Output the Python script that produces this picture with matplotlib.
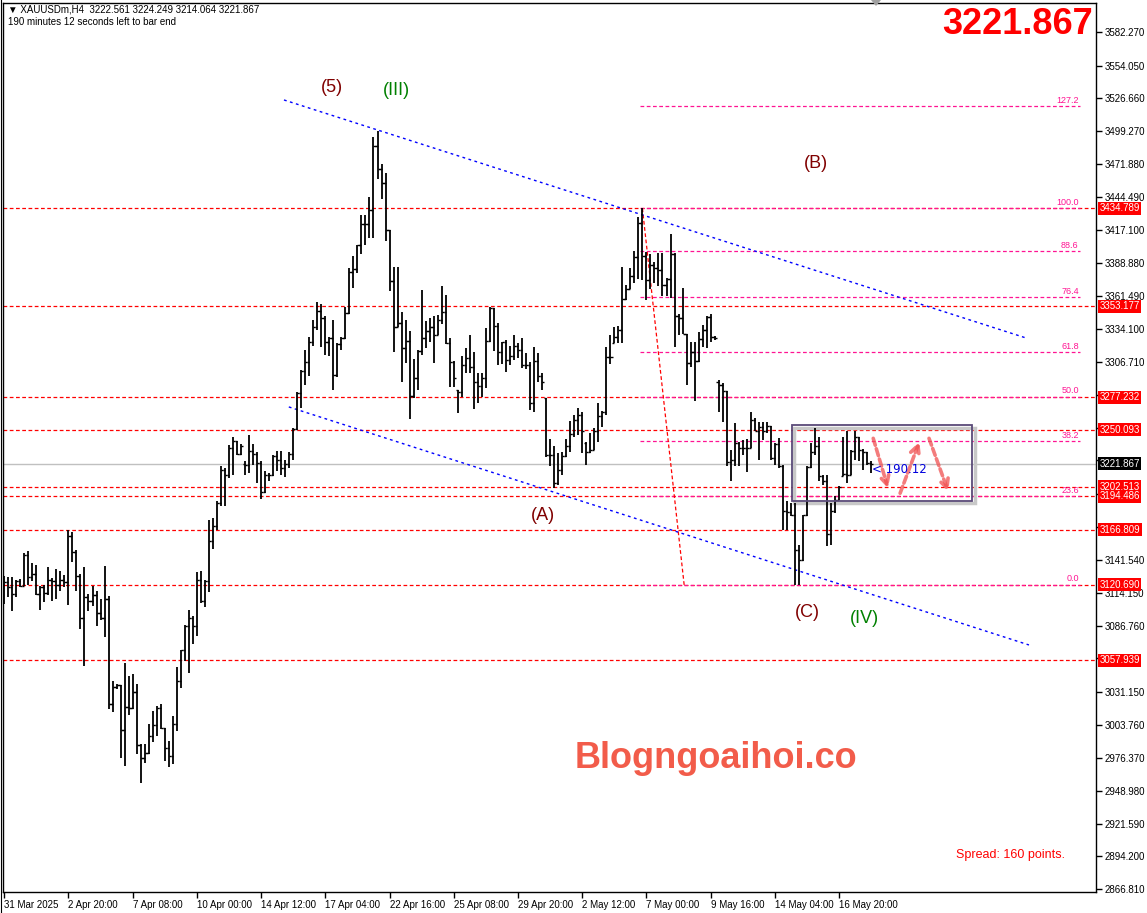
import matplotlib
matplotlib.use("Agg")
import matplotlib.pyplot as plt
import matplotlib.transforms as mtransforms
from matplotlib.patches import Rectangle, Polygon
from matplotlib.lines import Line2D

plt.rcParams['font.family'] = ['Liberation Sans', 'DejaVu Sans']

# XAUUSDm H4 bars
opens = [
    3124.3, 3123.2, 3118.8, 3113.2, 3123.8, 3119.6, 3145.4, 3127.1, 3129.9, 3113.2,
    3118.8, 3114.0, 3125.1, 3124.3, 3121.0, 3125.1, 3123.2, 3161.8, 3147.9, 3128.5,
    3092.7, 3110.4, 3107.1, 3112.6, 3097.4, 3092.7, 3109.3, 3021.6, 3035.8, 3036.9,
    2999.4, 3018.8, 3018.3, 3031.3, 2987.2, 2976.1, 2980.8, 2994.7, 3003.5, 3017.7,
    3001.0, 2984.4, 2978.0, 3004.4, 3040.5, 3066.0, 3086.3, 3092.7, 3086.3, 3125.1,
    3107.1, 3124.3, 3157.6, 3169.6, 3189.0, 3216.7, 3212.6, 3235.0, 3240.4, 3230.1,
    3222.0, 3221.0, 3232.1, 3230.1, 3222.4, 3198.2, 3212.1, 3212.1, 3227.9, 3225.1,
    3218.2, 3221.5, 3230.1, 3250.9, 3280.7, 3299.3, 3306.5, 3323.7, 3336.2, 3349.2,
    3343.7, 3323.1, 3327.0, 3295.9, 3321.5, 3327.0, 3347.3, 3382.0, 3384.2, 3404.2,
    3422.2, 3422.2, 3433.3, 3486.9, 3467.5, 3456.1, 3416.7, 3374.2, 3336.2, 3339.0,
    3318.7, 3324.2, 3278.7, 3293.7, 3315.9, 3326.5, 3332.6, 3336.2, 3329.2, 3341.7,
    3348.7, 3322.5, 3307.0, 3283.0, 3282.0, 3304.2, 3310.0, 3302.2, 3290.3, 3287.0,
    3293.1, 3324.2, 3351.9, 3336.9, 3314.7, 3323.1, 3308.3, 3312.0, 3320.3, 3316.7,
    3304.2, 3304.0, 3272.3, 3307.5, 3295.3, 3276.4, 3228.7, 3228.7, 3205.6, 3216.7,
    3228.0, 3237.0, 3246.7, 3258.4, 3262.6, 3239.0, 3232.0, 3233.4, 3248.7, 3262.0,
    3264.8, 3311.1, 3322.2, 3327.8, 3333.3, 3359.1, 3368.0, 3378.6, 3394.4, 3423.0,
    3395.0, 3375.0, 3387.5, 3385.2, 3383.8, 3370.8, 3376.0, 3397.2, 3345.0, 3343.0,
    3329.7, 3305.6, 3315.3, 3307.5, 3325.8, 3333.3, 3344.4, 3327.8, 3290.0, 3287.5,
    3282.5, 3223.0, 3225.1, 3238.9, 3235.0, 3234.8, 3235.3, 3258.4, 3249.2, 3252.8,
    3248.7, 3253.7, 3227.0, 3238.1, 3219.5, 3182.0, 3181.5, 3178.7, 3150.1, 3141.8,
    3178.7, 3218.7, 3231.4, 3237.0, 3211.2, 3207.0, 3163.2, 3182.6, 3191.7, 3211.5,
    3213.1, 3212.0, 3232.6, 3244.5, 3233.4, 3231.4, 3222.561,
]
highs = [
    3127.9, 3127.1, 3127.1, 3125.1, 3126.0, 3147.1, 3148.7, 3139.0, 3137.1, 3119.6,
    3120.4, 3135.4, 3126.5, 3134.0, 3132.1, 3128.7, 3166.8, 3164.8, 3149.6, 3130.0,
    3135.4, 3113.2, 3119.6, 3116.0, 3109.0, 3136.2, 3111.3, 3040.5, 3038.3, 3037.0,
    3055.2, 3044.6, 3046.0, 3037.7, 2987.7, 2988.3, 3004.4, 3015.5, 3019.6, 3021.6,
    3001.0, 2990.5, 3011.3, 3052.1, 3066.8, 3087.1, 3099.6, 3094.6, 3131.5, 3132.1,
    3125.1, 3175.1, 3176.5, 3190.9, 3219.5, 3218.1, 3237.6, 3243.7, 3240.4, 3238.2,
    3223.8, 3245.4, 3238.2, 3231.2, 3223.8, 3216.0, 3214.0, 3229.3, 3232.1, 3232.1,
    3225.1, 3231.2, 3251.5, 3281.5, 3300.1, 3316.7, 3327.9, 3341.7, 3357.0, 3354.8,
    3345.3, 3327.9, 3341.7, 3322.3, 3327.9, 3352.8, 3384.8, 3395.3, 3404.7, 3429.7,
    3429.2, 3444.4, 3494.4, 3499.1, 3472.2, 3464.7, 3416.7, 3386.1, 3386.1, 3348.7,
    3341.7, 3332.6, 3309.3, 3316.7, 3366.7, 3340.9, 3343.7, 3345.3, 3345.9, 3370.3,
    3362.6, 3327.0, 3307.5, 3283.4, 3312.0, 3318.6, 3329.2, 3315.3, 3297.2, 3297.2,
    3335.3, 3352.8, 3351.9, 3338.9, 3323.6, 3325.0, 3320.3, 3329.2, 3322.2, 3326.4,
    3313.9, 3307.0, 3319.4, 3313.9, 3297.2, 3276.4, 3242.6, 3236.2, 3230.6, 3232.0,
    3242.6, 3257.5, 3262.6, 3268.6, 3264.8, 3239.8, 3247.3, 3251.4, 3272.3, 3265.9,
    3319.4, 3329.2, 3336.1, 3336.9, 3386.1, 3371.0, 3384.7, 3399.1, 3427.7, 3434.8,
    3398.6, 3397.2, 3389.7, 3398.0, 3398.0, 3377.0, 3413.8, 3398.0, 3346.4, 3368.6,
    3329.7, 3323.6, 3323.1, 3331.4, 3337.5, 3345.3, 3346.4, 3328.3, 3291.7, 3288.9,
    3282.5, 3233.4, 3255.6, 3240.3, 3241.7, 3242.6, 3265.3, 3259.8, 3256.4, 3257.0,
    3257.0, 3253.7, 3238.9, 3243.1, 3220.9, 3190.4, 3189.0, 3189.0, 3154.3, 3179.3,
    3219.5, 3238.9, 3252.0, 3244.5, 3212.6, 3212.6, 3189.0, 3194.5, 3202.9, 3244.5,
    3249.2, 3233.4, 3248.7, 3244.5, 3234.2, 3232.0, 3224.249,
]
lows = [
    3104.9, 3110.7, 3098.8, 3110.7, 3118.8, 3119.6, 3120.4, 3123.8, 3112.1, 3099.6,
    3106.3, 3112.1, 3107.1, 3108.8, 3115.4, 3119.0, 3103.8, 3139.9, 3116.0, 3084.1,
    3053.0, 3098.8, 3102.9, 3086.3, 3091.3, 3077.1, 3016.9, 3014.9, 3033.5, 2976.6,
    2969.7, 3012.2, 3016.9, 2979.4, 2955.8, 2972.5, 2979.4, 2989.7, 2994.7, 3000.8,
    2973.8, 2969.1, 2971.6, 2998.8, 3034.9, 3057.1, 3047.4, 3071.6, 3077.9, 3105.7,
    3102.4, 3114.9, 3151.0, 3166.8, 3186.2, 3186.8, 3209.9, 3212.6, 3229.3, 3229.0,
    3212.6, 3214.0, 3221.0, 3205.7, 3192.7, 3197.4, 3207.1, 3211.5, 3216.0, 3212.6,
    3210.4, 3218.2, 3225.1, 3250.1, 3268.2, 3287.6, 3295.4, 3320.4, 3333.4, 3319.5,
    3312.6, 3311.7, 3283.4, 3294.5, 3316.7, 3326.0, 3346.5, 3368.1, 3380.6, 3397.2,
    3404.7, 3410.3, 3410.3, 3459.7, 3442.5, 3407.5, 3365.9, 3314.8, 3336.2, 3290.4,
    3305.6, 3259.0, 3276.5, 3283.4, 3312.6, 3318.1, 3323.7, 3305.6, 3329.2, 3338.1,
    3321.5, 3285.6, 3286.1, 3264.0, 3277.8, 3297.2, 3297.2, 3267.5, 3272.3, 3277.8,
    3285.3, 3323.6, 3315.8, 3304.2, 3304.7, 3298.6, 3304.2, 3308.3, 3309.7, 3301.4,
    3300.6, 3266.7, 3265.3, 3290.3, 3283.4, 3227.8, 3219.5, 3201.5, 3204.0, 3212.0,
    3227.8, 3232.0, 3244.5, 3245.9, 3230.6, 3220.9, 3230.6, 3233.0, 3239.8, 3252.8,
    3262.6, 3304.7, 3322.2, 3322.2, 3322.2, 3358.0, 3368.0, 3373.0, 3375.8, 3375.0,
    3358.3, 3368.0, 3372.2, 3370.2, 3361.6, 3362.0, 3359.7, 3318.9, 3329.2, 3329.7,
    3287.5, 3302.8, 3274.2, 3307.0, 3318.9, 3318.6, 3323.6, 3325.0, 3264.8, 3257.0,
    3220.0, 3207.0, 3219.5, 3219.5, 3229.2, 3215.3, 3235.0, 3249.2, 3225.1, 3241.7,
    3247.3, 3225.1, 3220.9, 3218.1, 3166.8, 3166.8, 3177.9, 3121.0, 3121.0, 3140.4,
    3177.9, 3218.1, 3229.2, 3207.0, 3204.2, 3152.9, 3154.3, 3180.6, 3191.7, 3211.2,
    3205.6, 3212.0, 3225.1, 3224.2, 3216.7, 3220.9, 3214.064,
]
closes = [
    3123.2, 3118.8, 3113.2, 3123.8, 3119.6, 3145.4, 3127.1, 3129.9, 3113.2, 3118.8,
    3114.0, 3125.1, 3124.3, 3121.0, 3125.1, 3123.2, 3161.8, 3147.9, 3128.5, 3092.7,
    3110.4, 3107.1, 3112.6, 3097.4, 3092.7, 3109.3, 3021.6, 3035.8, 3036.9, 2999.4,
    3018.8, 3018.3, 3031.3, 2987.2, 2976.1, 2980.8, 2994.7, 3003.5, 3017.7, 3001.0,
    2984.4, 2978.0, 3004.4, 3040.5, 3066.0, 3086.3, 3092.7, 3086.3, 3125.1, 3107.1,
    3124.3, 3157.6, 3169.6, 3189.0, 3216.7, 3212.6, 3235.0, 3240.4, 3230.1, 3236.2,
    3221.0, 3232.1, 3230.1, 3222.4, 3198.2, 3212.1, 3212.1, 3227.9, 3225.1, 3218.2,
    3221.5, 3230.1, 3250.9, 3280.7, 3299.3, 3306.5, 3323.7, 3336.2, 3349.2, 3343.7,
    3323.1, 3327.0, 3295.9, 3321.5, 3327.0, 3347.3, 3382.0, 3384.2, 3404.2, 3422.2,
    3422.2, 3433.3, 3486.9, 3467.5, 3456.1, 3416.7, 3374.2, 3336.2, 3339.0, 3318.7,
    3324.2, 3278.7, 3293.7, 3315.9, 3326.5, 3332.6, 3336.2, 3329.2, 3341.7, 3348.7,
    3322.5, 3307.0, 3293.1, 3282.0, 3304.2, 3310.0, 3302.2, 3290.3, 3287.0, 3293.1,
    3324.2, 3351.9, 3336.9, 3314.7, 3323.1, 3308.3, 3312.0, 3320.3, 3316.7, 3304.2,
    3304.0, 3272.3, 3307.5, 3295.3, 3290.0, 3228.7, 3228.7, 3205.6, 3216.7, 3228.0,
    3237.0, 3246.7, 3258.4, 3262.6, 3248.7, 3232.0, 3233.4, 3248.7, 3262.0, 3264.8,
    3311.1, 3311.1, 3327.8, 3333.3, 3359.1, 3368.0, 3378.6, 3394.4, 3423.0, 3395.0,
    3375.0, 3387.5, 3385.2, 3383.8, 3370.8, 3376.0, 3397.2, 3345.0, 3343.0, 3329.7,
    3305.6, 3315.3, 3307.5, 3325.8, 3333.3, 3344.4, 3327.8, 3326.4, 3287.5, 3282.5,
    3223.0, 3225.1, 3238.9, 3235.0, 3234.8, 3235.3, 3258.4, 3249.2, 3252.8, 3248.7,
    3253.7, 3227.0, 3238.1, 3219.5, 3182.0, 3181.5, 3178.7, 3150.1, 3141.8, 3178.7,
    3218.7, 3231.4, 3237.0, 3211.2, 3207.0, 3163.2, 3182.6, 3191.7, 3202.0, 3213.1,
    3212.0, 3232.6, 3244.5, 3233.4, 3231.4, 3222.3, 3221.867,
]

date_labels = ["31 Mar 2025", "2 Apr 20:00", "7 Apr 08:00", "10 Apr 00:00", "14 Apr 12:00",
               "17 Apr 04:00", "22 Apr 16:00", "25 Apr 08:00", "29 Apr 20:00", "2 May 12:00",
               "7 May 00:00", "9 May 16:00", "14 May 04:00", "16 May 20:00"]
label_step = 16

price_ticks = [3582.270, 3554.050, 3526.660, 3499.270, 3471.880, 3444.490, 3417.100,
               3388.880, 3361.490, 3334.100, 3306.710, 3279.320, 3251.930, 3224.540,
               3196.320, 3168.930, 3141.540, 3114.150, 3086.760, 3059.370, 3031.150,
               3003.760, 2976.370, 2948.980, 2921.590, 2894.200, 2866.810]

# horizontal support / resistance lines
levels = [3434.789, 3353.177, 3277.232, 3250.093, 3202.513, 3194.486, 3166.809, 3120.690, 3057.939]
last_price = 3221.867

# fibonacci retracement (0 = low, 100 = high)
fib_low, fib_high = 3120.690, 3434.789
fib_ratios = [127.2, 100.0, 88.6, 76.4, 61.8, 50.0, 38.2, 23.6, 0.0]
fib_x = (158.5, 268.0)
fib_diag = [(159.0, 3434.789), (169.4, 3120.690)]

# channel trendlines  (bar index, price)
upper_line = [(69.7, 3525.3), (254.6, 3326.7)]
lower_line = [(70.9, 3269.2), (255.3, 3070.6)]

# elliott wave labels
waves = [("(5)", 81.7, 3535.3, "#800000"), ("(III)", 97.6, 3533.6, "#008000"),
         ("(B)", 202.2, 3471.9, "#800000"), ("(A)", 134.2, 3178.3, "#800000"),
         ("(C)", 200.2, 3098.1, "#800000"), ("(IV)", 214.2, 3093.1, "#008000")]

# range box and projected path arrows
box = (196.2, 3190.7, 241.2, 3253.9)
arrows = [((216.5, 3243.0), (220.2, 3201.3)),
          ((223.2, 3197.2), (228.0, 3240.2)),
          ((230.4, 3243.0), (235.2, 3198.5))]

W, H = 1147, 913
fig = plt.figure(figsize=(W / 100, H / 100), dpi=100)
fig.patch.set_facecolor("white")
ax = fig.add_axes([3 / W, 21 / H, 1093 / W, 889 / H])
ax.set_facecolor("white")
ax.set_xlim(-0.3, 272.0)
ax.set_ylim(2864.5, 3606.2)

n = len(closes)
xs = list(range(n))

# lines behind the bars
for lv in levels:
    ax.axhline(lv, color="red", lw=0.9, ls=(0, (3, 2)), zorder=1)
ax.axhline(last_price, color="#C0C0C0", lw=1.0, zorder=1)

fib_rng = fib_high - fib_low
for r in fib_ratios:
    p = fib_low + fib_rng * r / 100.0
    ax.plot(fib_x, [p, p], color="#FF1493", lw=0.9, ls=(0, (3, 2)), zorder=1)
    ax.text(fib_x[1] - 0.3, p + 1.2, f"{r:.1f}", color="#FF1493", fontsize=6.5,
            ha="right", va="bottom", zorder=2)
ax.plot([fib_diag[0][0], fib_diag[1][0]], [fib_diag[0][1], fib_diag[1][1]],
        color="red", lw=0.9, ls=(0, (3, 2)), zorder=1)

for ln in (upper_line, lower_line):
    ax.plot([ln[0][0], ln[1][0]], [ln[0][1], ln[1][1]], color="blue", lw=1.0,
            ls=(0, (2, 2.5)), zorder=1)

# OHLC bars
ax.vlines(xs, lows, highs, color="black", lw=1.3, zorder=3)
ax.hlines(opens, [x - 0.55 for x in xs], xs, color="black", lw=1.0, zorder=3)
ax.hlines(closes, xs, [x + 0.55 for x in xs], color="black", lw=1.0, zorder=3)

# range box with shadow
bx0, by0, bx1, by1 = box
ax.add_patch(Rectangle((bx0 + 0.6, by0 - 2.0), bx1 - bx0, by1 - by0, fill=False,
                       ec="#C8C8C8", lw=2.5, zorder=2))
ax.add_patch(Rectangle((bx0, by0), bx1 - bx0, by1 - by0, fill=False,
                       ec="#5A4A78", lw=1.3, zorder=4))

for start, end in arrows:
    ax.annotate("", xy=end, xytext=start,
                arrowprops=dict(arrowstyle="->", color="#F05050", lw=2.6, alpha=0.75,
                                linestyle=(0, (2, 1)), mutation_scale=16,
                                shrinkA=0, shrinkB=0), zorder=5)

ax.text(216.3, 3216.6, "< 190.12", color="#0000DD", fontsize=8.5, ha="left", va="center",
        family=["DejaVu Sans"], zorder=5)

for label, x, y, c in waves:
    ax.text(x, y, label, color=c, fontsize=13, ha="center", va="center", zorder=5)

# axes styling
for sp in ax.spines.values():
    sp.set_color("black")
    sp.set_linewidth(1.0)
ax.yaxis.tick_right()
ax.set_yticks(price_ticks)
# scale labels that sit under a price tag are hidden by the tag
tagged = levels + [last_price]
ax.set_yticklabels(["" if min(abs(v - t) for t in tagged) < 4.5 else f"{v:.3f}"
                    for v in price_ticks])
ax.tick_params(axis="y", direction="out", length=4, width=1, labelsize=7, pad=2)
ax.set_xticks([i * label_step for i in range(len(date_labels))])
ax.set_xticklabels(date_labels, ha="left")
ax.tick_params(axis="x", direction="out", length=4, width=1, labelsize=7, pad=2)

# price tags on right scale
tag = mtransforms.blended_transform_factory(fig.transFigure, ax.transData)
for lv in levels:
    ax.text(1099.5 / W, lv, f"{lv:.3f}", transform=tag, color="white", fontsize=7,
            ha="left", va="center", clip_on=False, zorder=10,
            bbox=dict(boxstyle="square,pad=0.15", fc="red", ec="none"))
ax.text(1099.5 / W, last_price, f"{last_price:.3f}", transform=tag, color="white",
        fontsize=7, ha="left", va="center", clip_on=False, zorder=11,
        bbox=dict(boxstyle="square,pad=0.15", fc="black", ec="none"))

# header and overlays
fig.text(8 / W, 1 - 9 / H, "\u25bc XAUUSDm,H4  %.3f %.3f %.3f %.3f"
         % (opens[-1], highs[-1], lows[-1], closes[-1]),
         fontsize=7, ha="left", va="center", family=["Liberation Sans", "DejaVu Sans"])
fig.text(8 / W, 1 - 22 / H, "190 minutes 12 seconds left to bar end",
         fontsize=7, ha="left", va="center")
fig.text(1093 / W, 1 - 24 / H, f"{last_price:.3f}", color="red", fontsize=26,
         fontweight="bold", ha="right", va="center")
fig.text(715.5 / W, 1 - 758 / H, "Blogngoaihoi.co", color="#F25C4A", fontsize=26,
         fontweight="bold", ha="center", va="center")
fig.text(1065 / W, 1 - 855 / H, "Spread: 160 points.", color="red", fontsize=9,
         ha="right", va="center")

# window border and chart-shift marker
fig.add_artist(Line2D([1.2 / W, 1.2 / W], [0, 1], color="black", lw=0.8))
fig.add_artist(Polygon([[871 / W, 1.0], [881 / W, 1.0], [876 / W, 1 - 6 / H]],
                       closed=True, fc="#A0A0A0", ec="none"))

fig.savefig("out.png", dpi=100)
